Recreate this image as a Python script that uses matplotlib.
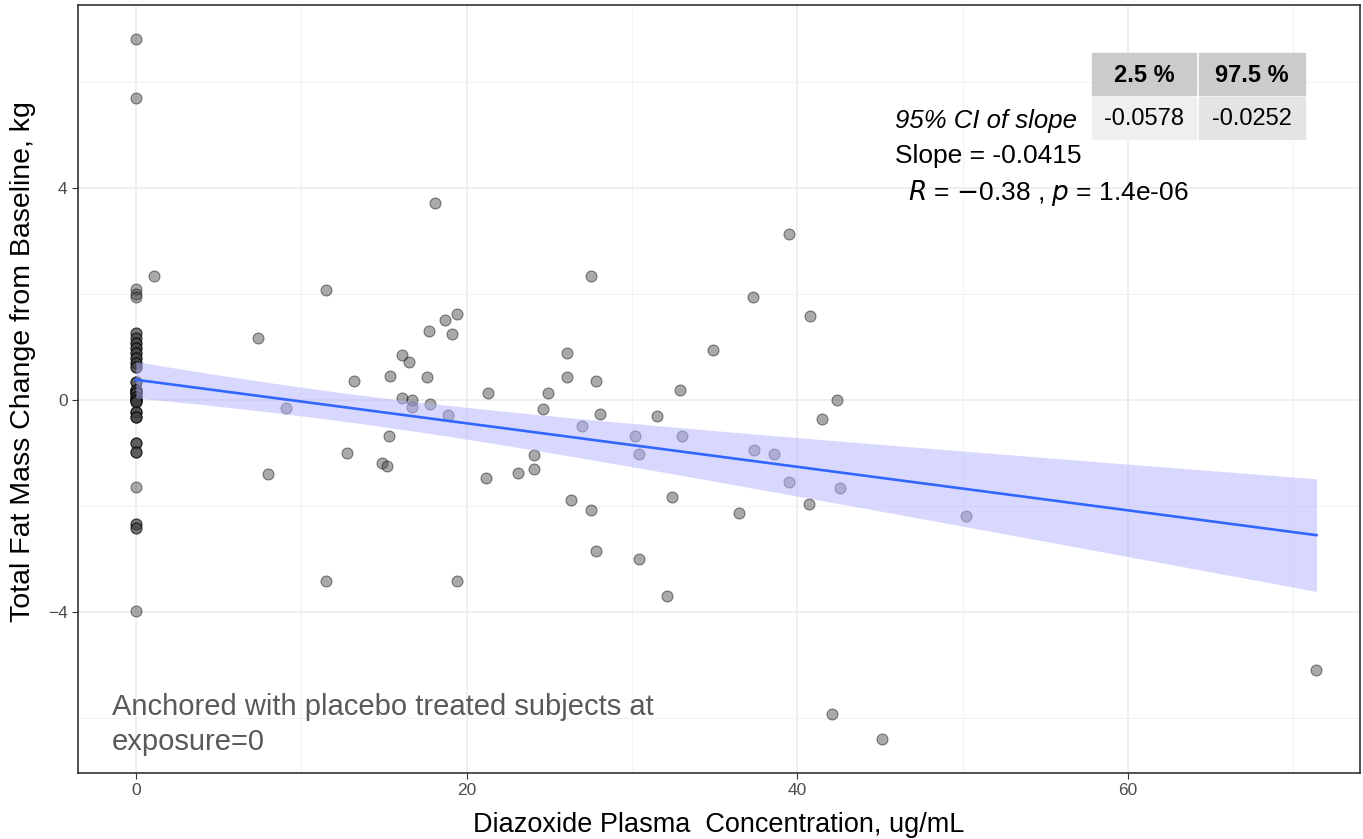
import numpy as np
import matplotlib
matplotlib.use('Agg')
import matplotlib.pyplot as plt
from matplotlib.patches import Rectangle

plt.rcParams['font.family'] = ['Liberation Sans', 'DejaVu Sans']

# === DATA ===
# placebo subjects, all at exposure 0 (many overlap -> dark column)
placebo_y = [6.81, 5.70, 2.09, 2.00, 1.94,
             1.26, 1.26, 1.17, 1.17, 1.08, 1.08, 1.08, 0.98, 0.98, 0.98,
             0.89, 0.89, 0.89, 0.79, 0.79, 0.79, 0.70, 0.70, 0.70,
             0.62, 0.62, 0.62,
             0.34, 0.34, 0.34, 0.19, 0.19, 0.19, 0.19, 0.19, 0.19,
             0.13, 0.13, 0.13, 0.13, 0.13, 0.13, 0.06, 0.06, 0.06, 0.06,
             0.00, 0.00, 0.00, 0.00, 0.00, 0.00, -0.05, -0.05, -0.05,
             -0.23, -0.23, -0.23, -0.23, -0.32, -0.32, -0.32, -0.32,
             -0.81, -0.81, -0.81, -0.98, -0.98, -0.98, -1.64,
             -2.34, -2.34, -2.43, -2.43, -3.98]

conc = [1.1, 7.4, 8.0, 9.1, 11.5, 11.5, 12.8, 13.2, 14.9, 15.2,
        15.3, 15.4, 16.1, 16.1, 16.5, 16.7, 16.7, 17.6, 17.7, 17.8,
        18.1, 18.7, 18.9, 19.1, 19.4, 19.4, 21.3, 21.2, 23.1, 24.1,
        24.1, 24.6, 24.9, 26.1, 26.1, 26.3, 27.0, 27.5, 27.5, 27.8,
        27.8, 28.1, 30.2, 30.4, 30.4, 31.5, 32.1, 32.4, 32.9, 33.0,
        34.9, 36.5, 37.3, 37.4, 38.6, 39.5, 39.5, 40.7, 40.8, 41.5,
        42.1, 42.4, 42.6, 45.1, 50.2, 71.4]
fat_change = [2.34, 1.17, -1.40, -0.15, 2.08, -3.42, -1.00, 0.36, -1.19, -1.26,
              -0.68, 0.45, 0.85, 0.04, 0.72, 0.00, -0.13, 0.42, 1.30, -0.08,
              3.72, 1.51, -0.28, 1.25, 1.62, -3.42, 0.13, -1.47, -1.38, -1.04,
              -1.30, -0.17, 0.13, 0.89, 0.42, -1.89, -0.49, 2.34, -2.09, 0.36,
              -2.85, -0.26, -0.68, -1.02, -3.00, -0.30, -3.70, -1.83, 0.19, -0.68,
              0.94, -2.13, 1.94, -0.94, -1.02, -1.55, 3.13, -1.96, 1.58, -0.36,
              -5.94, 0.00, -1.66, -6.40, -2.19, -5.11]

x_ticks = [0, 20, 40, 60]
y_ticks = [-4, 0, 4]
ci_cols = ['2.5 %', '97.5 %']
ci_vals = ['-0.0578', '-0.0252']

x = np.array([0.0] * len(placebo_y) + conc)
y = np.array(placebo_y + fat_change)

# linear fit with 95% confidence band (like geom_smooth(method="lm"))
n = len(x)
b1, b0 = np.polyfit(x, y, 1)
resid = y - (b0 + b1 * x)
s = np.sqrt(np.sum(resid ** 2) / (n - 2))
xg = np.linspace(x.min(), x.max(), 80)
yg = b0 + b1 * xg
se = s * np.sqrt(1 / n + (xg - x.mean()) ** 2 / np.sum((x - x.mean()) ** 2))
t = 1.976

fig = plt.figure(figsize=(13.63, 8.39), dpi=100)
ax = fig.add_axes([0.0572, 0.079, 0.9408, 0.915])

ax.scatter(x, y, s=62, facecolor=(0.25, 0.25, 0.25, 0.45),
           edgecolor=(0, 0, 0, 0.45), linewidth=0.8, zorder=3)
ax.fill_between(xg, yg - t * se, yg + t * se, color='#b3b3ff', alpha=0.5,
                linewidth=0, zorder=4)
ax.plot(xg, yg, color='#3366ff', lw=1.9, zorder=5)

ax.set_xlim(-3.5, 74.05)
ax.set_ylim(-7.04, 7.45)
ax.set_xticks(x_ticks)
ax.set_yticks(y_ticks)
ax.set_xticks([10, 30, 50, 70], minor=True)
ax.set_yticks([-6, -2, 2, 6], minor=True)
ax.grid(which='major', color='#ebebeb', lw=1.1)
ax.grid(which='minor', color='#f2f2f2', lw=0.8)
ax.set_axisbelow(True)
ax.tick_params(which='minor', length=0)
ax.tick_params(which='major', length=4, color='#333333', labelsize=12.5,
               labelcolor='#4d4d4d')
for sp in ax.spines.values():
    sp.set_color('#333333')
    sp.set_linewidth(1.2)

ax.set_xlabel('Diazoxide Plasma  Concentration, ug/mL', fontsize=19.5, labelpad=10)
ax.set_ylabel('Total Fat Mass Change from Baseline, kg', fontsize=20.5,
              va='center', ha='center')
ax.yaxis.set_label_coords(-0.043, 0.536)

ax.text(-1.45, -6.72, 'Anchored with placebo treated subjects at\nexposure=0',
        fontsize=21, color='#595959', ha='left', va='bottom', linespacing=1.3)

# annotations
fig.text(895 / 1363, 1 - 121 / 839, '95% CI of slope', fontsize=18.5,
         style='italic', va='center', ha='left')
fig.text(895 / 1363, 1 - 156 / 839, 'Slope = -0.0415', fontsize=19,
         va='center', ha='left')
fig.text(908 / 1363, 1 - 193 / 839,
         r'$\mathit{R}$ = $-$0.38 , $\mathit{p}$ = 1.4e-06', fontsize=19,
         va='center', ha='left')

# CI table
cell_x = [1092, 1199]
cell_w = [104, 106]
for i in range(2):
    x0 = cell_x[i] / 1363
    w = cell_w[i] / 1363
    fig.patches.append(Rectangle((x0, 1 - 95 / 839), w, 42 / 839,
                                 transform=fig.transFigure, color='#cbcbcb'))
    fig.patches.append(Rectangle((x0, 1 - 139 / 839), w, 42 / 839,
                                 transform=fig.transFigure,
                                 color=['#efefef', '#e4e4e4'][i]))
    fig.text(x0 + w / 2, 1 - 75 / 839, ci_cols[i], fontsize=17,
             weight='bold', ha='center', va='center')
    fig.text(x0 + w / 2, 1 - 119 / 839, ci_vals[i], fontsize=17,
             ha='center', va='center')

fig.savefig('out.png', dpi=100)
